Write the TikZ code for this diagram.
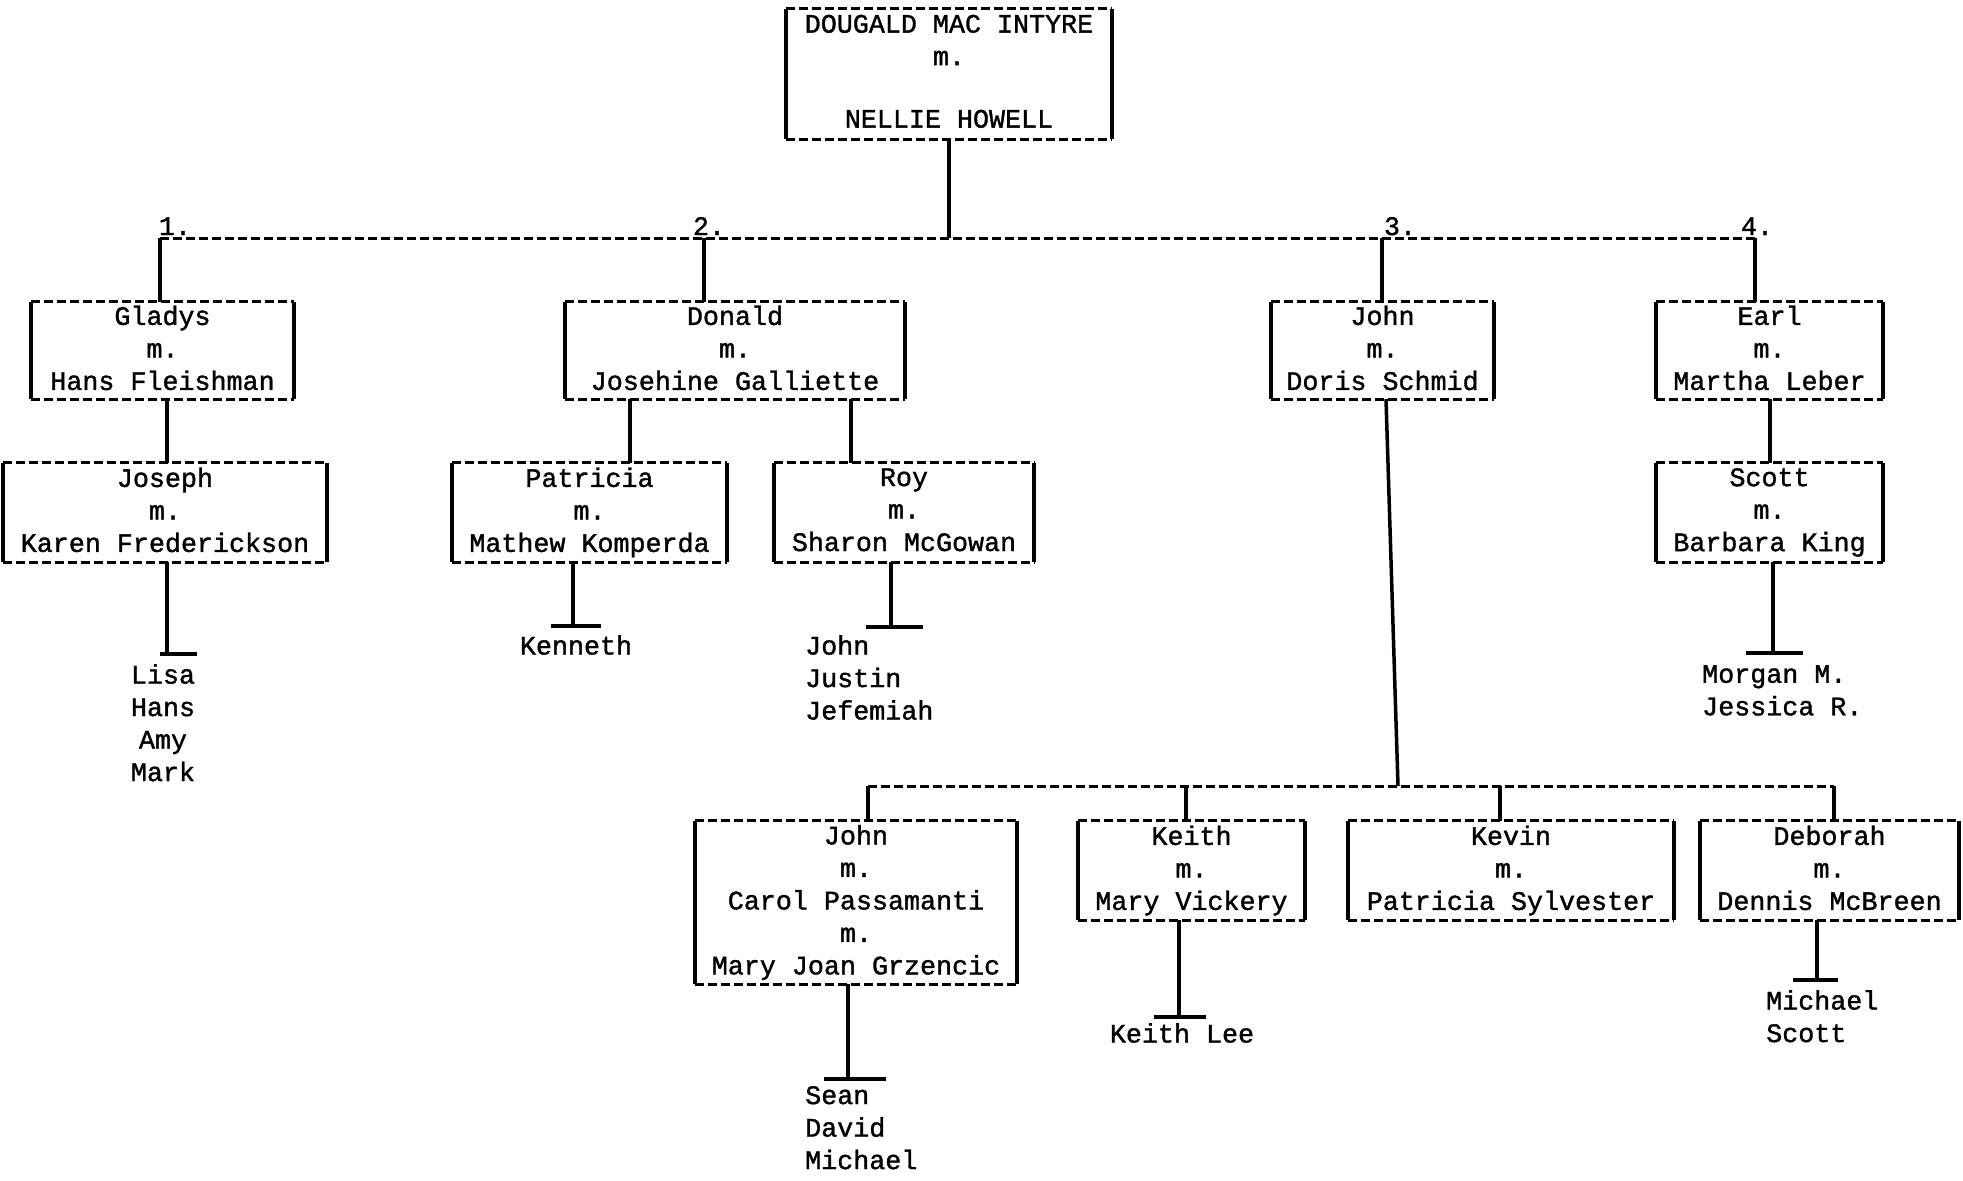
\documentclass[tikz,border=0pt]{standalone}
\usepackage{fontspec}
\setmainfont{Liberation Mono}[FakeBold=1.3]
\newcommand\tw{\fontsize{26.7pt}{32.5pt}\selectfont}
\begin{document}
\begin{tikzpicture}[x=1pt,y=-1pt,
  famnode/.style={inner sep=0pt, align=center, font=\tw,
    execute at begin node={\rule{0pt}{27pt}}, execute at end node={\vphantom{gjy}}},
  kids/.style={inner sep=0pt, font=\tw},
  solidline/.style={line width=3.5pt},
  dashline/.style={line width=3pt, dash pattern=on 9pt off 4pt},
  sideline/.style={line width=3.5pt},
  numlabel/.style={inner sep=0pt, font=\tw, anchor=base}]
\fill[white] (0,0) rectangle (1963,1181);
\useasboundingbox (0,0) rectangle (1963,1181);

% generation 0
\node[famnode, minimum width=326pt, minimum height=130pt] (root) at (949,74) {DOUGALD MAC INTYRE\\m.\\[30pt]NELLIE HOWELL};

% generation 1
\node[famnode, minimum width=263pt, minimum height=97pt] (gladys) at (162.5,350.5) {Gladys\\m.\\Hans Fleishman};
\node[famnode, minimum width=340pt, minimum height=97pt] (donald) at (735,350.5) {Donald\\m.\\Josehine Galliette};
\node[famnode, minimum width=223pt, minimum height=97pt] (johnA) at (1382.5,350.5) {John\\m.\\Doris Schmid};
\node[famnode, minimum width=227pt, minimum height=97pt] (earl) at (1769.5,350.5) {Earl\\m.\\Martha Leber};

% generation 2
\node[famnode, minimum width=324pt, minimum height=99pt] (joseph) at (165,512.5) {Joseph\\m.\\Karen Frederickson};
\node[famnode, minimum width=275pt, minimum height=99pt] (patricia) at (589.5,512.5) {Patricia\\m.\\Mathew Komperda};
\node[famnode, minimum width=260pt, minimum height=99pt] (roy) at (904,512.5) {Roy\\m.\\Sharon McGowan};
\node[famnode, minimum width=227pt, minimum height=99pt] (scott) at (1769.5,512.5) {Scott\\m.\\Barbara King};

\node[famnode, minimum width=322pt, minimum height=163pt] (johnB) at (856,902.5) {John\\m.\\Carol Passamanti\\m.\\Mary Joan Grzencic};
\node[famnode, minimum width=227pt, minimum height=99pt] (keith) at (1191.5,870.5) {Keith\\m.\\Mary Vickery};
\node[famnode, minimum width=326pt, minimum height=99pt] (kevin) at (1511,870.5) {Kevin\\m.\\Patricia Sylvester};
\node[famnode, minimum width=259pt, minimum height=99pt] (deborah) at (1829.5,870.5) {Deborah\\m.\\Dennis McBreen};

% box borders: solid sides, dashed top and bottom
\foreach \n in {root,gladys,donald,johnA,earl,joseph,patricia,roy,scott,johnB,keith,kevin,deborah}{
  \draw[sideline] (\n.north west) -- (\n.south west);
  \draw[sideline] (\n.north east) -- (\n.south east);
  \draw[dashline] (\n.north west) -- (\n.north east);
  \draw[dashline] (\n.south west) -- (\n.south east);
}

% children lists
\node[kids, align=center, anchor=north] (kjoseph) at (163,664) {Lisa\\Hans\\Amy\\Mark};
\node[kids, anchor=north] (kpatricia) at (576,635) {Kenneth};
\node[kids, align=left, anchor=north west] (kroy) at (805,635) {John\\Justin\\Jefemiah};
\node[kids, align=left, anchor=north west] (kscott) at (1702,665) {Morgan M.\\Jessica R.};
\node[kids, align=left, anchor=north west] (kjohnB) at (805,1086) {Sean\\David\\Michael};
\node[kids, anchor=north] (kkeith) at (1182,1023) {Keith Lee};
\node[kids, align=left, anchor=north west] (kdeborah) at (1766,990) {Michael\\Scott};

% first sibling bar
\coordinate (g1) at (160,238);
\coordinate (g2) at (704,238);
\coordinate (g3) at (1382,238);
\coordinate (g4) at (1755,238);
\draw[solidline] (root.south) -- (root.south |- g1);
\draw[dashline] (g1) -- (g4);
\draw[solidline] (g1) -- (gladys.north -| g1);
\draw[solidline] (g2) -- (donald.north -| g2);
\draw[solidline] (g3) -- (johnA.north -| g3);
\draw[solidline] (g4) -- (earl.north -| g4);
\node[numlabel] (n1) at (175,235) {1.};
\node[numlabel] (n2) at (709,235) {2.};
\node[numlabel] (n3) at (1400,235) {3.};
\node[numlabel] (n4) at (1757,235) {4.};

% box to box connectors
\draw[solidline] (gladys.south -| 167,0) -- (joseph.north -| 167,0);
\draw[solidline] (donald.south -| 630,0) -- (patricia.north -| 630,0);
\draw[solidline] (donald.south -| 851,0) -- (roy.north -| 851,0);
\draw[solidline] (earl.south -| 1770,0) -- (scott.north -| 1770,0);

% tee connectors to children
\coordinate (tjoseph) at (167,654);
\draw[solidline] (joseph.south -| tjoseph) -- (tjoseph);
\draw[solidline] ([xshift=-7pt]tjoseph) -- ([xshift=30pt]tjoseph);
\coordinate (tpatricia) at (573,626);
\draw[solidline] (patricia.south -| tpatricia) -- (tpatricia);
\draw[solidline] ([xshift=-22pt]tpatricia) -- ([xshift=28pt]tpatricia);
\coordinate (troy) at (891,627);
\draw[solidline] (roy.south -| troy) -- (troy);
\draw[solidline] ([xshift=-25pt]troy) -- ([xshift=32pt]troy);
\coordinate (tscott) at (1773,653);
\draw[solidline] (scott.south -| tscott) -- (tscott);
\draw[solidline] ([xshift=-27pt]tscott) -- ([xshift=30pt]tscott);
\coordinate (tjohnB) at (848,1079);
\draw[solidline] (johnB.south -| tjohnB) -- (tjohnB);
\draw[solidline] ([xshift=-24pt]tjohnB) -- ([xshift=38pt]tjohnB);
\coordinate (tkeith) at (1179,1017);
\draw[solidline] (keith.south -| tkeith) -- (tkeith);
\draw[solidline] ([xshift=-25pt]tkeith) -- ([xshift=27pt]tkeith);
\coordinate (tdeborah) at (1817,980);
\draw[solidline] (deborah.south -| tdeborah) -- (tdeborah);
\draw[solidline] ([xshift=-24pt]tdeborah) -- ([xshift=21pt]tdeborah);

% second sibling bar (children of John and Doris)
\coordinate (h0) at (1398,786);
\coordinate (h1) at (868,786);
\coordinate (h2) at (1186,786);
\coordinate (h3) at (1500,786);
\coordinate (h4) at (1834,786);
\draw[solidline] (johnA.south -| 1386,0) -- (h0);
\draw[dashline] (h1) -- (h4);
\draw[solidline] (h1) -- (johnB.north -| h1);
\draw[solidline] (h2) -- (keith.north -| h2);
\draw[solidline] (h3) -- (kevin.north -| h3);
\draw[solidline] (h4) -- (deborah.north -| h4);
\end{tikzpicture}
\end{document}
